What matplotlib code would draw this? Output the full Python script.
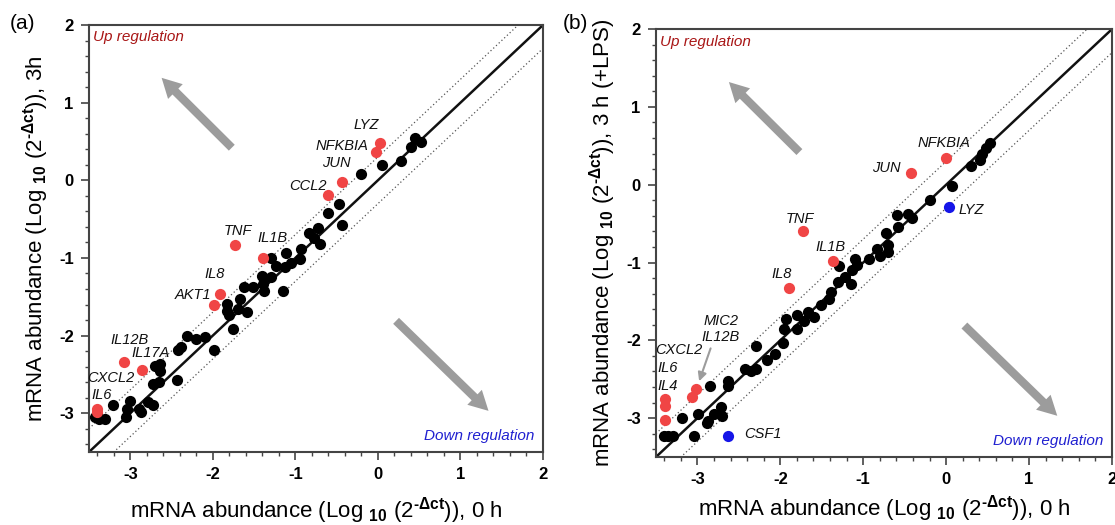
import numpy as np
import matplotlib
matplotlib.use('Agg')
import matplotlib.pyplot as plt
from matplotlib.ticker import MultipleLocator

plt.rcParams['font.family'] = ['Liberation Sans', 'DejaVu Sans']
plt.rcParams['axes.unicode_minus'] = False
plt.rcParams['mathtext.fontset'] = 'custom'
plt.rcParams['mathtext.rm'] = 'Liberation Sans'
plt.rcParams['mathtext.bf'] = 'Liberation Sans:bold'

# ---- panel (a): 0 h vs 3 h ----
a_black_x = [0.45, 0.52, 0.40, 0.28, 0.05, -0.20, -0.47, -0.60, -0.43, -0.83, -0.72, -0.78,
             -0.70, -0.93, -1.11, -0.94, -1.05, -1.30, -1.13, -1.23, -1.40, -1.30, -1.39, -1.15,
             -1.38, -1.62, -1.51, -1.67, -1.83, -1.70, -1.59, -1.83, -1.80, -1.76, -1.99, -2.09,
             -2.20, -2.31, -2.38, -2.42, -2.43, -2.70, -2.64, -2.64, -2.73, -2.65, -2.72, -2.79,
             -2.90, -2.87, -3.00, -3.04, -3.05, -3.21, -3.43, -3.38, -3.30, -3.40]
a_black_y = [0.55, 0.49, 0.43, 0.25, 0.20, 0.08, -0.30, -0.42, -0.57, -0.68, -0.61, -0.74,
             -0.82, -0.88, -0.94, -1.02, -1.07, -1.00, -1.12, -1.11, -1.23, -1.25, -1.33, -1.42,
             -1.42, -1.38, -1.38, -1.53, -1.59, -1.66, -1.70, -1.68, -1.74, -1.91, -2.19, -2.02,
             -2.04, -2.01, -2.15, -2.18, -2.57, -2.39, -2.37, -2.45, -2.62, -2.60, -2.90, -2.86,
             -2.95, -2.99, -2.84, -2.95, -3.05, -2.90, -3.05, -3.08, -3.08, -3.01]
a_red_genes = ['LYZ', 'NFKBIA', 'JUN', 'CCL2', 'TNF', 'IL1B', 'IL8', 'AKT1',
               'IL12B', 'IL17A', 'CXCL2', 'IL6']
a_red_x = [0.03, -0.02, -0.43, -0.60, -1.73, -1.39, -1.91, -1.98, -3.08, -2.86, -3.40, -3.40]
a_red_y = [0.48, 0.37, -0.02, -0.19, -0.83, -1.00, -1.46, -1.60, -2.34, -2.44, -2.94, -2.99]

# ---- panel (b): 0 h vs 3 h (+LPS) ----
b_black_x = [0.53, 0.48, 0.43, 0.41, 0.30, 0.07, -0.20, -0.59, -0.46, -0.41, -0.58, -0.72,
             -0.70, -0.70, -0.83, -0.80, -0.93, -1.10, -1.07, -1.29, -1.13, -1.22, -1.15, -1.30,
             -1.39, -1.41, -1.51, -1.67, -1.59, -1.80, -1.72, -1.93, -1.96, -1.80, -1.97, -2.29,
             -2.07, -2.16, -2.29, -2.43, -2.35, -2.63, -2.63, -2.85, -2.72, -2.70, -2.80, -2.89,
             -2.99, -2.87, -3.19, -3.04, -3.40, -3.29, -3.36]
b_black_y = [0.53, 0.47, 0.39, 0.32, 0.24, -0.01, -0.19, -0.39, -0.37, -0.43, -0.54, -0.62,
             -0.78, -0.86, -0.83, -0.91, -0.95, -0.95, -1.03, -1.04, -1.10, -1.19, -1.27, -1.25,
             -1.38, -1.47, -1.54, -1.64, -1.70, -1.68, -1.75, -1.72, -1.85, -1.85, -2.04, -2.07,
             -2.18, -2.25, -2.37, -2.37, -2.39, -2.52, -2.59, -2.59, -2.86, -2.97, -2.95, -3.06,
             -2.95, -3.04, -3.00, -3.23, -3.23, -3.23, -3.23]
b_red_genes = ['NFKBIA', 'JUN', 'TNF', 'IL1B', 'IL8', 'MIC2', 'IL12B', 'CXCL2', 'IL6', 'IL4']
b_red_x = [0.00, -0.42, -1.73, -1.37, -1.90, -3.02, -3.07, -3.39, -3.39, -3.39]
b_red_y = [0.34, 0.15, -0.59, -0.98, -1.33, -2.63, -2.73, -2.75, -2.84, -3.03]
b_blue_genes = ['LYZ', 'CSF1']
b_blue_x = [0.03, -2.63]
b_blue_y = [-0.28, -3.23]

RED = '#f04545'
BLUE = '#1515e8'
ARROW = '#9c9c9c'
fold = np.log10(2)

fig = plt.figure(figsize=(11.15, 5.25), dpi=100)
ax_a = fig.add_axes([0.0798, 0.139, 0.4072, 0.8133])
ax_b = fig.add_axes([0.5883, 0.1295, 0.409, 0.815])

# hyphen (U+2010) instead of the mathtext minus sign
sup = r'(2$^{\mathbf{' + '\u2010' + r'\Delta ct}}$))'
xlab = r'mRNA abundance (Log $_{\mathbf{10}}$ ' + sup + ', 0 h'


def base(ax, ylabel, xpad):
    ax.set_xlim(-3.5, 2)
    ax.set_ylim(-3.5, 2)
    line = np.array([-3.5, 2])
    ax.plot(line, line, color='#111111', lw=1.8, zorder=2)
    ax.plot(line, line + fold, color='#555555', lw=0.9, ls=(0, (1, 2)), zorder=1)
    ax.plot(line, line - fold, color='#555555', lw=0.9, ls=(0, (1, 2)), zorder=1)
    ax.xaxis.set_major_locator(MultipleLocator(1))
    ax.yaxis.set_major_locator(MultipleLocator(1))
    ax.xaxis.set_minor_locator(MultipleLocator(0.2))
    ax.yaxis.set_minor_locator(MultipleLocator(0.2))
    ax.tick_params(which='major', direction='out', length=6, width=1.2, labelsize=12,
                   pad=5, color='#444444')
    ax.tick_params(which='minor', direction='out', length=3, width=1.0, color='#444444')
    for lbl in ax.get_xticklabels() + ax.get_yticklabels():
        lbl.set_fontweight('bold')
    for sp in ax.spines.values():
        sp.set_linewidth(1.5)
        sp.set_color('#444444')
    ax.set_xlabel(xlab, fontsize=16, labelpad=xpad)
    ax.set_ylabel(ylabel, fontsize=16, labelpad=6)
    ax.text(-3.45, 1.84, 'Up regulation', color='#a81515', style='italic',
            fontsize=11, va='center', ha='left')
    ax.text(1.9, -3.3, 'Down regulation', color='#2020d0', style='italic',
            fontsize=11, va='center', ha='right')
    arr = dict(width=6, headwidth=15, headlength=14, color=ARROW, shrink=0, lw=0)
    ax.annotate('', xy=(-2.62, 1.32), xytext=(-1.77, 0.42), arrowprops=arr)
    ax.annotate('', xy=(1.34, -2.97), xytext=(0.22, -1.81), arrowprops=arr)


base(ax_a, r'mRNA abundance (Log $_{\mathbf{10}}$ ' + sup + ', 3h', 9)
base(ax_b, r'mRNA abundance (Log $_{\mathbf{10}}$ ' + sup + ', 3 h (+LPS)', 4)

ax_a.scatter(a_black_x, a_black_y, s=65, color='black', zorder=3, linewidths=0)
ax_a.scatter(a_red_x, a_red_y, s=65, color=RED, zorder=4, linewidths=0)

ax_b.scatter(b_black_x, b_black_y, s=65, color='black', zorder=3, linewidths=0)
ax_b.scatter(b_red_x, b_red_y, s=65, color=RED, zorder=4, linewidths=0)
ax_b.scatter(b_blue_x, b_blue_y, s=65, color=BLUE, zorder=4, linewidths=0)

lab = dict(style='italic', fontsize=10.5, color='#111111', va='center')

a_label_pos = {'LYZ': (-0.14, 0.71), 'NFKBIA': (-0.44, 0.44), 'JUN': (-0.50, 0.22),
               'CCL2': (-0.85, -0.07), 'TNF': (-1.70, -0.65), 'IL1B': (-1.28, -0.74),
               'IL8': (-1.98, -1.21), 'AKT1': (-2.24, -1.48), 'IL12B': (-3.01, -2.06),
               'IL17A': (-2.76, -2.23), 'CXCL2': (-3.23, -2.55), 'IL6': (-3.35, -2.77)}
for g in a_red_genes:
    ax_a.text(*a_label_pos[g], g, ha='center', **lab)

b_label_pos = {'NFKBIA': (-0.03, 0.53, 'center'), 'JUN': (-0.72, 0.21, 'center'),
               'TNF': (-1.76, -0.44, 'center'), 'IL1B': (-1.39, -0.80, 'center'),
               'IL8': (-1.98, -1.15, 'center'), 'MIC2': (-2.72, -1.75, 'center'),
               'IL12B': (-2.72, -1.96, 'center'), 'CXCL2': (-3.22, -2.13, 'center'),
               'IL6': (-3.48, -2.35, 'left'), 'IL4': (-3.48, -2.59, 'left'),
               'LYZ': (0.15, -0.32, 'left'), 'CSF1': (-2.43, -3.21, 'left')}
for g in b_red_genes + b_blue_genes:
    x, y, ha = b_label_pos[g]
    ax_b.text(x, y, g, ha=ha, **lab)
ax_b.annotate('', xy=(-2.99, -2.56), xytext=(-2.83, -2.07),
              arrowprops=dict(arrowstyle='-|>,head_length=0.5,head_width=0.25',
                              color=ARROW, lw=1.5))

fig.text(0.009, 0.955, '(a)', fontsize=15, va='center')
fig.text(0.505, 0.955, '(b)', fontsize=15, va='center')

fig.savefig('out.png', dpi=100)
